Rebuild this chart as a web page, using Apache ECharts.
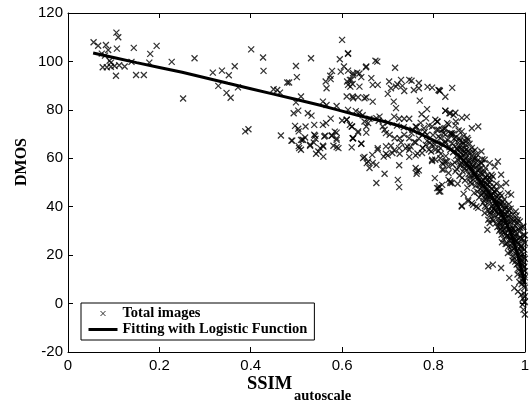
<!DOCTYPE html>
<html><head><meta charset="utf-8">
<script src="https://cdn.jsdelivr.net/npm/echarts@6/dist/echarts.min.js"></script>
<style>html,body{margin:0;padding:0;background:#fff}#c{width:532px;height:407px}</style>
</head><body><div id="c"></div>
<script>
var xTicks = ['0','0.2','0.4','0.6','0.8','1'];
var yTicks = ['-20','0','20','40','60','80','100','120'];
var seriesNames = ['Total images','Fitting with Logistic Function'];

// scatter points [SSIM, DMOS]
var ptsLeft = [
[0.056,107.9],[0.066,106.5],[0.074,103.2],[0.083,106.8],[0.088,104.7],[0.081,102.4],[0.106,111.9],[0.110,110.0],[0.107,105.3],
[0.076,97.6],[0.085,97.6],[0.094,97.8],[0.102,98.1],[0.112,98.4],[0.124,97.9],[0.091,100.3],[0.094,99.5],[0.105,94.1],
[0.144,105.6],[0.139,99.8],[0.149,94.4],[0.166,94.4],[0.180,103.1],[0.178,99.5],[0.194,106.4],[0.227,99.8],[0.277,101.3],
[0.252,84.7],[0.317,95.4],[0.337,96.2],[0.352,94.3],[0.329,89.9],[0.347,87.0],[0.356,85.0],[0.365,98.0],
[0.401,105.0],[0.427,101.6],[0.428,96.1],[0.372,89.3],[0.388,71.1],[0.395,72.0]
];
var ptsMid = [
[0.499,98.1],[0.501,93.5],[0.532,101.3],[0.480,91.3],[0.484,91.3],[0.450,88.5],[0.458,88.2],[0.464,87.1],[0.510,85.5],[0.499,83.1],[0.466,69.4],
[0.600,108.9],[0.595,100.9],[0.613,103.1],[0.604,97.9],[0.597,95.8],[0.578,96.1],[0.574,94.1],[0.564,91.7],[0.566,88.9],[0.575,92.7],
[0.611,91.7],[0.620,92.4],[0.624,94.3],[0.618,89.6],[0.623,85.5],[0.558,83.4],[0.566,82.0],[0.588,81.6],
[0.494,78.6],[0.504,79.7],[0.525,78.6],[0.533,77.6],
[0.497,73.4],[0.504,72.2],[0.520,73.1],[0.539,73.8],[0.558,73.8],[0.565,74.5],[0.575,76.4],[0.600,75.6],[0.610,75.9],[0.622,73.1],
[0.489,67.3],[0.510,67.6],[0.519,68.6],[0.539,69.7],[0.542,68.0],[0.561,69.0],[0.578,69.4],[0.584,71.0],[0.588,68.2],[0.624,68.3],
[0.505,65.0],[0.530,65.2],[0.559,64.8],[0.588,64.6],[0.621,64.5],
[0.515,67.6],[0.530,65.6],[0.538,66.5],[0.541,69.3],[0.552,64.2],[0.558,65.2],[0.559,60.7],[0.543,61.9],[0.510,63.5],[0.505,71.1],
[0.563,69.3],[0.577,69.3],[0.588,70.6],[0.588,67.6],[0.592,64.2],[0.581,65.2],[0.623,68.3],[0.635,70.6],[0.642,66.0],[0.653,70.6],
[0.506,64.2],[0.548,62.8],[0.491,67.3],[0.513,67.6]
];
var ptsUpper = [
[0.613,103.4],[0.673,100.3],[0.677,99.9],[0.652,97.6],[0.716,97.4],[0.653,97.9],[0.638,95.0],
[0.613,96.2],[0.624,95.1],[0.633,95.4],[0.642,93.5],[0.617,92.4],[0.623,90.7],[0.613,90.3],[0.638,89.6],
[0.664,93.1],[0.667,90.3],[0.678,90.3],
[0.703,91.7],[0.707,88.9],[0.718,89.6],[0.721,90.6],[0.729,92.4],[0.732,89.9],[0.736,87.8],
[0.747,92.4],[0.752,92.0],[0.757,88.2],[0.768,88.9],[0.797,89.2],[0.814,87.8],
[0.700,86.6],[0.713,83.4],[0.718,80.7],[0.714,77.2],[0.725,76.3],[0.736,76.3],[0.747,76.3],
[0.770,83.8],[0.786,80.3],[0.826,79.7],[0.835,78.6],[0.844,77.9],
[0.610,85.5],[0.624,84.8],[0.635,85.2],[0.649,84.8],[0.653,85.2],[0.667,83.4],[0.613,80.0],[0.638,78.9],
[0.610,75.9],[0.617,73.8],[0.621,73.1],[0.635,71.1],[0.649,75.2],[0.653,73.1],[0.657,74.5],[0.675,76.6],[0.682,77.2],
[0.768,91.1],[0.787,89.5],[0.811,88.2],[0.826,85.4],[0.841,89.1],[0.813,88.0],[0.848,78.8],[0.862,76.7],[0.873,77.1]
];
var ptsLine = [
[0.689,73.1],[0.693,71.8],[0.696,70.4],[0.704,69.7],[0.715,68.3],[0.726,68.3],[0.736,69.7],[0.747,68.3],[0.754,71.8],[0.761,73.1],
[0.768,71.1],[0.779,72.4],[0.786,69.7],[0.797,73.1],[0.804,75.9],[0.819,71.8],[0.826,69.7],[0.826,72.4],[0.837,70.4],[0.826,67.0],
[0.624,68.3],[0.642,66.0],[0.678,64.2],[0.696,64.9],[0.707,65.2],[0.725,64.2],[0.743,64.9],[0.776,64.2],[0.797,65.6],[0.815,64.2],
[0.630,79.5],[0.645,77.8],[0.660,76.3],[0.680,75.5],[0.700,74.8],[0.720,73.5],[0.735,72.8]
];
var ptsLow = [
[0.649,60.6],[0.657,58.7],[0.660,56.0],[0.667,58.1],[0.675,57.3],[0.666,61.4],[0.678,63.5],[0.675,49.8],[0.693,53.6],[0.691,60.7],
[0.696,61.9],[0.700,61.2],[0.714,63.3],[0.725,57.1],[0.722,51.1],[0.725,48.1],[0.726,61.9],[0.729,66.5],[0.739,64.1],[0.747,60.6],
[0.750,64.8],[0.761,61.2],[0.763,53.6],[0.768,55.0],[0.761,66.5],
[0.776,69.7],[0.783,65.6],[0.790,63.5],[0.797,59.4],[0.803,51.8],[0.808,47.7],[0.815,46.3],[0.819,49.0],[0.822,55.3],[0.830,58.7],
[0.833,53.9],[0.837,50.4],[0.840,49.8],[0.819,58.0],[0.804,63.5],[0.837,63.5],[0.840,69.7],[0.811,69.0],[0.826,66.3],
[0.646,60.1],[0.654,58.0],[0.761,56.0],[0.764,54.6],[0.812,48.4],[0.812,46.3],[0.710,62.2],[0.747,63.5],[0.775,62.2]
];
var ptsRight = [
[0.826,79.6],[0.837,78.6],[0.849,75.2],[0.830,74.5],[0.808,75.2],[0.811,71.8],[0.822,70.4],[0.840,70.4],[0.862,71.1],[0.884,72.4],
[0.898,73.1],[0.876,67.6],[0.905,62.8],[0.912,59.4],[0.923,58.0],[0.934,56.6],[0.941,58.7],[0.930,52.5],[0.948,53.2],[0.959,49.8],
[0.963,45.6],[0.970,45.0],[0.948,48.4],
[0.804,59.4],[0.815,60.0],[0.826,58.7],[0.833,56.6],[0.819,55.3],[0.833,51.1],[0.811,47.7],[0.837,49.8],[0.848,54.6],
[0.862,40.1],[0.876,42.9],[0.884,41.5],[0.894,40.1],[0.862,40.4],[0.876,42.2],[0.887,40.8],[0.898,39.5],
[0.912,37.4],[0.920,34.6],[0.918,30.5],[0.923,33.3],[0.920,15.4],[0.930,16.1],[0.948,14.7],
[0.966,10.6],[0.977,6.4],[0.985,5.0],[0.995,-0.4],[0.997,-2.5],[1.000,-4.5],[0.999,0.5],
[0.752,70.4],[0.758,66.8],[0.763,72.9],[0.768,68.1],[0.772,74.6],[0.777,64.3],[0.781,70.9],[0.786,67.2],[0.790,73.5],[0.795,62.8],
[0.799,69.6],[0.803,65.7],[0.807,71.8],[0.811,63.1],[0.815,68.4],[0.819,66.0],[0.823,72.2],[0.827,60.9],[0.831,67.5],[0.835,64.6],
[0.838,70.0],[0.765,62.0],[0.784,76.5],[0.797,58.9],[0.809,75.1],[0.821,57.6],[0.833,74.0],[0.774,78.2],[0.792,66.4],[0.816,61.8]
];
var ptsBand1 = [
[0.841,66.2],[0.843,62.5],[0.844,70.1],[0.846,58.3],[0.847,64.8],[0.849,68.7],[0.850,61.0],[0.851,55.6],[0.852,66.9],[0.853,63.4],
[0.854,59.2],[0.855,71.5],[0.856,65.1],[0.857,52.8],[0.858,60.7],[0.859,67.3],[0.860,62.2],[0.842,57.4],[0.848,73.6],[0.853,49.5],
[0.845,68.0],[0.857,64.0],[0.859,56.9],
[0.861,63.8],[0.862,58.1],[0.863,66.7],[0.864,54.6],[0.865,61.4],[0.866,69.2],[0.867,57.3],[0.868,62.9],[0.869,50.8],[0.870,59.7],
[0.871,65.5],[0.872,55.2],[0.873,60.6],[0.874,47.9],[0.875,57.8],[0.876,63.1],[0.877,53.4],[0.878,59.0],[0.879,66.0],[0.880,51.7],
[0.866,45.3],[0.871,61.9],[0.874,68.4],[0.878,56.1],
[0.881,57.5],[0.882,53.0],[0.883,60.9],[0.884,49.4],[0.885,55.8],[0.886,62.6],[0.887,51.2],[0.888,58.3],[0.889,45.7],[0.890,54.1],
[0.891,59.8],[0.892,48.6],[0.893,56.4],[0.894,52.3],[0.895,61.7],[0.896,46.2],[0.897,54.9],[0.898,50.5],[0.899,57.2],[0.900,43.8],
[0.884,64.3],[0.887,56.7],[0.892,53.6],[0.896,58.9],[0.899,49.1]
];
var ptsBand2 = [
[0.901,52.8],[0.902,47.3],[0.903,55.6],[0.904,50.1],[0.905,44.9],[0.906,57.9],[0.907,48.4],[0.908,53.5],[0.909,41.6],[0.910,50.8],
[0.911,46.0],[0.912,54.7],[0.913,43.2],[0.914,49.6],[0.915,52.1],[0.916,39.8],[0.917,47.7],[0.918,44.3],[0.919,51.4],[0.920,38.2],
[0.903,49.0],[0.907,59.6],[0.911,42.4],[0.914,56.0],[0.918,48.9],[0.906,45.5],[0.916,45.1],
[0.921,46.6],[0.922,42.1],[0.923,49.9],[0.924,37.5],[0.925,44.7],[0.926,51.3],[0.927,40.2],[0.928,47.2],[0.929,34.9],[0.930,43.6],
[0.931,39.1],[0.932,48.5],[0.933,36.3],[0.934,42.8],[0.935,45.9],[0.936,33.0],[0.937,40.7],[0.938,37.9],[0.939,44.0],[0.940,31.6],
[0.923,43.9],[0.927,53.2],[0.931,45.3],[0.934,38.6],[0.937,47.0],[0.940,41.5],[0.925,36.7],
[0.941,39.4],[0.942,35.2],[0.943,43.3],[0.944,30.1],[0.945,37.8],[0.946,45.4],[0.947,33.6],[0.948,40.9],[0.949,28.4],[0.950,36.5],
[0.951,31.9],[0.952,42.0],[0.953,26.7],[0.954,34.8],[0.955,38.9],[0.956,29.5],[0.957,33.1],[0.958,24.6],[0.959,36.9],[0.960,27.8],
[0.943,37.1],[0.946,32.0],[0.949,44.6],[0.952,35.5],[0.955,30.7],[0.958,40.3],[0.944,41.8],[0.950,25.3],[0.957,39.0]
];
var ptsBand3 = [
[0.961,32.4],[0.962,28.0],[0.963,36.2],[0.964,23.5],[0.965,30.6],[0.966,38.3],[0.967,26.2],[0.968,33.7],[0.969,21.4],[0.970,29.4],
[0.971,35.0],[0.972,24.8],[0.973,31.2],[0.974,19.6],[0.975,27.5],[0.976,33.9],[0.977,22.7],[0.978,29.9],[0.979,17.3],[0.980,25.8],
[0.962,35.4],[0.965,41.0],[0.968,27.1],[0.971,30.3],[0.974,36.8],[0.977,26.4],[0.963,20.9],[0.969,39.2],[0.976,18.8],[0.979,32.1],
[0.966,33.0],[0.972,22.0],
[0.981,28.7],[0.982,21.9],[0.983,33.5],[0.984,16.4],[0.985,25.1],[0.986,30.8],[0.987,13.8],[0.988,22.6],[0.989,19.0],[0.990,27.3],
[0.991,11.5],[0.992,24.0],[0.993,17.7],[0.994,31.6],[0.995,9.2],[0.996,20.3],[0.997,14.9],[0.998,26.1],[0.999,7.4],[1.000,18.5],
[0.982,36.4],[0.985,19.7],[0.988,29.6],[0.991,23.2],[0.994,12.6],[0.997,28.4],[1.000,10.8],[0.983,26.0],[0.986,14.5],[0.989,33.9],
[0.992,16.8],[0.995,22.9],[0.998,4.3],[1.000,25.0],[0.999,15.3],[0.996,2.1],[1.000,3.0],[0.993,8.0]
];
var ptsBand4 = [
[0.852,63.9],[0.856,68.3],[0.861,60.4],[0.864,65.9],[0.868,55.9],[0.872,63.6],[0.876,58.9],[0.879,62.3],[0.883,56.2],[0.886,59.5],
[0.889,52.8],[0.893,60.3],[0.897,51.6],[0.900,55.5],[0.863,52.0],[0.870,67.0],[0.881,50.2],[0.891,63.4],[0.858,57.6],[0.867,64.1],
[0.903,53.9],[0.906,50.7],[0.909,47.1],[0.912,51.9],[0.915,44.6],[0.918,53.0],[0.921,42.9],[0.924,48.3],[0.927,45.0],[0.930,40.6],
[0.933,46.4],[0.936,38.8],[0.939,42.2],[0.942,36.9],[0.945,41.2],[0.948,34.3],[0.951,38.1],[0.904,58.2],[0.913,40.3],[0.922,51.8],
[0.931,34.2],[0.938,49.5],[0.944,33.4],[0.950,29.8],[0.917,49.3],[0.928,38.3],[0.935,41.4],[0.941,44.8],[0.947,30.8],[0.953,40.5],
[0.953,33.8],[0.956,37.0],[0.959,31.2],[0.962,34.1],[0.965,27.7],[0.968,31.0],[0.971,26.0],[0.974,29.0],[0.977,24.1],[0.980,27.6],
[0.983,21.0],[0.986,24.4],[0.989,18.2],[0.992,21.5],[0.995,15.8],[0.998,19.2],[1.000,13.4],[0.955,43.0],[0.961,24.8],[0.967,36.7],
[0.973,17.8],[0.978,34.6],[0.984,12.0],[0.990,31.2],[0.996,10.0],[0.999,22.3],[0.958,28.9],[0.964,38.9],[0.970,23.6],[0.976,30.7],
[0.982,16.1],[0.987,27.0],[0.993,12.9],[0.997,17.0],[1.000,6.6],[0.988,8.9],[0.994,26.7],[0.985,34.5],[0.980,38.0],[0.992,3.6],
[1.000,28.2],[0.997,31.8],[1.000,0.8],[0.999,11.9],[0.991,19.8]
];
var fitX = [0.055,0.15,0.25,0.35,0.45,0.55,0.63,0.70,0.75,0.80,0.83,0.85,0.875,0.90,0.92,0.94,0.96,0.975,0.99,1.0];
var fitY = [103.5,99.5,95.5,91.0,86.5,82.0,78.0,74.8,71.8,67.4,64.5,62.0,57.0,51.0,46.0,40.5,33.0,26.0,16.0,8.0];

var scatterData = [].concat(ptsLeft, ptsMid, ptsUpper, ptsLine, ptsLow, ptsRight, ptsBand1, ptsBand2, ptsBand3, ptsBand4);
var fitData = fitX.map(function(x,i){return [x, fitY[i]];});

var xMark = 'path://M0,0L10,10M10,0L0,10';
var tickFont = {fontFamily:'"Liberation Sans", Arial, sans-serif', fontSize:15, color:'#000'};
var serif = '"Liberation Serif", "Times New Roman", serif';

function xAx(pos, show){
  return {type:'value', min:0, max:1, interval:0.2, position:pos,
    axisLine:{show:true, onZero:false, lineStyle:{color:'#000', width:1}},
    axisTick:{show:true, inside:true, length:5, lineStyle:{color:'#000'}},
    axisLabel:Object.assign({show:show, margin:6, formatter:function(v){return xTicks[Math.round(v/0.2)];}}, tickFont),
    splitLine:{show:false}};
}
function yAx(pos, show){
  return {type:'value', min:-20, max:120, interval:20, position:pos,
    axisLine:{show:true, onZero:false, lineStyle:{color:'#000', width:1}},
    axisTick:{show:true, inside:true, length:5, lineStyle:{color:'#000'}},
    axisLabel:Object.assign({show:show, margin:5, formatter:function(v){return yTicks[Math.round((v+20)/20)];}}, tickFont),
    splitLine:{show:false}};
}

var chart = echarts.init(document.getElementById('c'), null, {renderer:'canvas'});
chart.setOption({
  animation:false,
  backgroundColor:'#fff',
  grid:{left:68, right:1, top:13, bottom:55, containLabel:false},
  xAxis:[xAx('bottom', true), xAx('top', false)],
  yAxis:[yAx('left', true), yAx('right', false)],
  legend:{
    left:81, top:303, orient:'vertical', padding:[3,7,3,6], itemGap:1,
    itemWidth:29, itemHeight:5,
    backgroundColor:'#fff', borderColor:'#000', borderWidth:1, borderRadius:0,
    textStyle:{fontFamily:serif, fontWeight:'bold', fontSize:14.5, color:'#000'},
    data:[
      {name:seriesNames[0], icon:xMark, itemStyle:{color:'transparent', borderColor:'#000', borderWidth:1}},
      {name:seriesNames[1], itemStyle:{color:'rgba(0,0,0,0)', borderColor:'rgba(0,0,0,0)', borderWidth:0, opacity:0}, lineStyle:{color:'#000', width:3}}
    ]
  },
  graphic:[
    {type:'text', x:22, y:162, rotation:Math.PI/2, style:{text:'DMOS', font:'bold 16px ' + serif, fill:'#000', align:'center', verticalAlign:'middle'}},
    {type:'text', x:247, y:375, style:{text:'SSIM', font:'bold 18.5px ' + serif, fill:'#000'}},
    {type:'text', x:294, y:389, style:{text:'autoscale', font:'bold 14.5px ' + serif, fill:'#000'}}
  ],
  series:[
    {name:seriesNames[0], type:'scatter', data:scatterData, symbol:xMark, symbolSize:6,
      itemStyle:{color:'transparent', borderColor:'#000', borderWidth:1.25}, z:2},
    {name:seriesNames[1], type:'line', data:fitData, showSymbol:false, symbol:'none', smooth:0.2,
      itemStyle:{color:'#000'}, lineStyle:{color:'#000', width:3}, z:3}
  ]
});
</script></body></html>
